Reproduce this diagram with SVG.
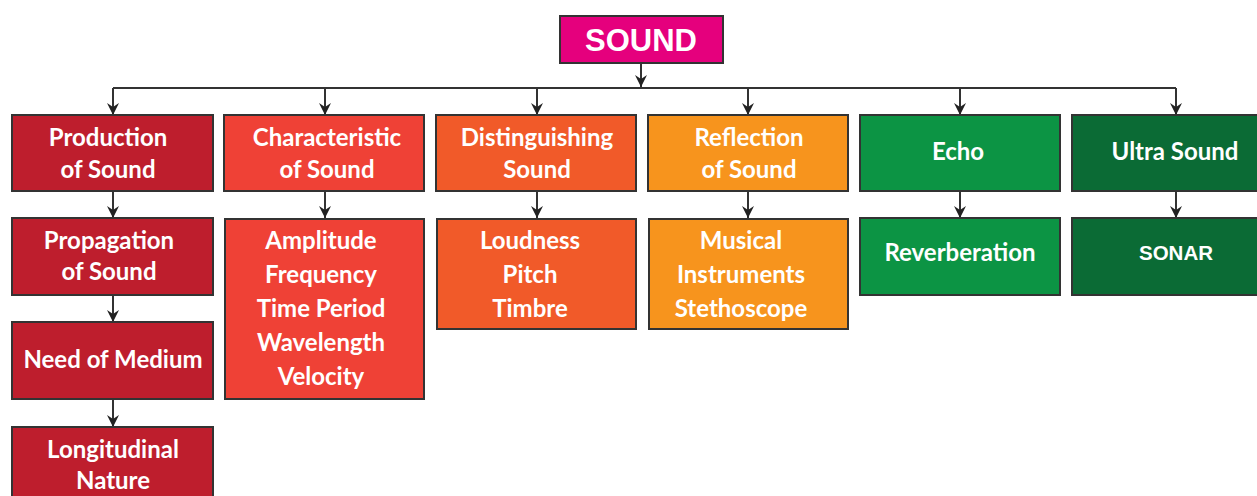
<svg xmlns="http://www.w3.org/2000/svg" width="1257" height="496" viewBox="0 0 1257 496">
<style>
.box{stroke:#333;stroke-width:2}
.t{font-family:Lato,"Open Sans","Liberation Sans",sans-serif;font-weight:700;font-size:24px;fill:#fff;text-anchor:middle}
.s{font-family:"Liberation Sans",Arial,sans-serif;font-weight:700;font-size:20.5px;fill:#fff;text-anchor:middle}
.ln{stroke:#333;stroke-width:2;fill:none}
</style>
<defs>
<marker id="ah" viewBox="0 0 12 12" refX="12" refY="6" markerWidth="12" markerHeight="12" markerUnits="userSpaceOnUse" orient="auto">
<path d="M0,0 L12,6 L0,12 L4,6 Z" fill="#222"/>
</marker>
</defs>
<rect width="1257" height="496" fill="#fff"/>
<g id="connectors">
<line class="ln" x1="641" y1="63" x2="641" y2="87" marker-end="url(#ah)"/>
<line class="ln" x1="113" y1="88" x2="1176" y2="88"/>
<line class="ln" x1="113" y1="88" x2="113" y2="115" marker-end="url(#ah)"/>
<line class="ln" x1="325" y1="88" x2="325" y2="115" marker-end="url(#ah)"/>
<line class="ln" x1="537" y1="88" x2="537" y2="115" marker-end="url(#ah)"/>
<line class="ln" x1="748" y1="88" x2="748" y2="115" marker-end="url(#ah)"/>
<line class="ln" x1="960" y1="88" x2="960" y2="115" marker-end="url(#ah)"/>
<line class="ln" x1="1176" y1="88" x2="1176" y2="115" marker-end="url(#ah)"/>
<line class="ln" x1="113" y1="191" x2="113" y2="218" marker-end="url(#ah)"/>
<line class="ln" x1="113" y1="295" x2="113" y2="322" marker-end="url(#ah)"/>
<line class="ln" x1="113" y1="399" x2="113" y2="427" marker-end="url(#ah)"/>
<line class="ln" x1="325" y1="191" x2="325" y2="218" marker-end="url(#ah)"/>
<line class="ln" x1="537" y1="191" x2="537" y2="218" marker-end="url(#ah)"/>
<line class="ln" x1="748" y1="191" x2="748" y2="218" marker-end="url(#ah)"/>
<line class="ln" x1="960" y1="191" x2="960" y2="218" marker-end="url(#ah)"/>
<line class="ln" x1="1176" y1="191" x2="1176" y2="218" marker-end="url(#ah)"/>
</g>
<g id="sound">
<rect class="box" x="560" y="16" width="163" height="47" fill="#E5007D"/>
<text class="s" x="641" y="51" style="font-size:31px">SOUND</text>
</g>
<g id="production">
<rect class="box" x="12" y="115" width="201" height="76" fill="#BE1E2D"/>
<text class="t" x="108" y="146">Production</text>
<text class="t" x="108" y="178">of Sound</text>
</g>
<g id="propagation">
<rect class="box" x="12" y="218" width="201" height="77" fill="#BE1E2D"/>
<text class="t" x="109" y="249">Propagation</text>
<text class="t" x="109" y="280">of Sound</text>
</g>
<g id="medium">
<rect class="box" x="12" y="322" width="201" height="77" fill="#BE1E2D"/>
<text class="t" x="113" y="368">Need of Medium</text>
</g>
<g id="longitudinal">
<rect class="box" x="12" y="427" width="201" height="80" fill="#BE1E2D"/>
<text class="t" x="113" y="458">Longitudinal</text>
<text class="t" x="113" y="489">Nature</text>
</g>
<g id="characteristic">
<rect class="box" x="224" y="115" width="200" height="76" fill="#EF4136"/>
<text class="t" x="327" y="146">Characteristic</text>
<text class="t" x="327" y="178">of Sound</text>
</g>
<g id="characteristics-list">
<rect class="box" x="225" y="219" width="199" height="180" fill="#EF4136"/>
<text class="t" x="321" y="249">Amplitude</text>
<text class="t" x="321" y="283">Frequency</text>
<text class="t" x="321" y="317">Time Period</text>
<text class="t" x="321" y="351">Wavelength</text>
<text class="t" x="321" y="385">Velocity</text>
</g>
<g id="distinguishing">
<rect class="box" x="436" y="115" width="200" height="76" fill="#F15A29"/>
<text class="t" x="537" y="146">Distinguishing</text>
<text class="t" x="537" y="178">Sound</text>
</g>
<g id="distinguishing-list">
<rect class="box" x="437" y="219" width="199" height="110" fill="#F15A29"/>
<text class="t" x="530" y="249">Loudness</text>
<text class="t" x="530" y="283">Pitch</text>
<text class="t" x="530" y="317">Timbre</text>
</g>
<g id="reflection">
<rect class="box" x="648" y="115" width="200" height="76" fill="#F7941D"/>
<text class="t" x="749" y="146">Reflection</text>
<text class="t" x="749" y="178">of Sound</text>
</g>
<g id="reflection-list">
<rect class="box" x="649" y="219" width="199" height="110" fill="#F7941D"/>
<text class="t" x="741" y="249">Musical</text>
<text class="t" x="741" y="283">Instruments</text>
<text class="t" x="741" y="317">Stethoscope</text>
</g>
<g id="echo">
<rect class="box" x="860" y="115" width="200" height="76" fill="#0C9444"/>
<text class="t" x="958" y="160">Echo</text>
</g>
<g id="reverberation">
<rect class="box" x="860" y="218" width="200" height="77" fill="#0C9444"/>
<text class="t" x="960" y="261">Reverberation</text>
</g>
<g id="ultrasound">
<rect class="box" x="1072" y="115" width="195" height="76" fill="#0B6B35"/>
<text class="t" x="1175" y="160">Ultra Sound</text>
</g>
<g id="sonar">
<rect class="box" x="1072" y="218" width="195" height="77" fill="#0B6B35"/>
<text class="s" x="1176" y="260">SONAR</text>
</g>
</svg>
